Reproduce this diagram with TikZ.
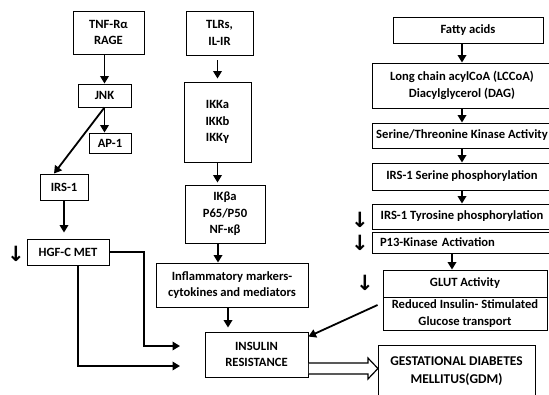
\documentclass[tikz,border=0pt]{standalone}
\usepackage{fontspec}
\setmainfont{Carlito}
\newfontfamily\arrfont{DejaVu Sans}
\usetikzlibrary{arrows.meta}

\begin{document}
\begin{tikzpicture}[
    x=1pt, y=-1pt,
    box/.style={draw, line width=0.9pt, align=center, inner sep=0pt,
      font=\bfseries\fontsize{12.6}{16.5}\selectfont},
    flow/.style={line width=1.8pt, -{Triangle[length=7.5pt, width=8.5pt]}},
    downsym/.style={font=\arrfont\bfseries\fontsize{21}{21}\selectfont, inner sep=0pt}
  ]
  \useasboundingbox (0,0) rectangle (549,394);
  \clip (0,0) rectangle (549,394);
  \fill[white] (0,0) rectangle (549,394);

  % left branch
  \node[box, minimum width=71, minimum height=43] (tnf) at (108.5,32.5) {TNF-Rα\\RAGE};
  \node[box, minimum width=53, minimum height=23] (jnk) at (104.5,95.5) {JNK};
  \node[box, minimum width=42, minimum height=20] (ap1) at (110,143) {AP-1};
  \node[box, minimum width=48, minimum height=26] (irs1) at (64,187) {IRS-1};
  \node[box, minimum width=82, minimum height=26] (hgf) at (68,252) {HGF-C MET};

  % middle branch
  \node[box, minimum width=67, minimum height=44] (tlr) at (219.5,33) {TLRs,\\IL-IR};
  \node[box, minimum width=67, minimum height=80] (ikk) at (217.5,122) {IKKa\\IKKb\\IKKγ};
  \node[box, minimum width=80, minimum height=58] (ikb) at (225,214) {IKβa\\P65/P50\\NF-κβ};
  \node[box, minimum width=152, minimum height=44] (inflam) at (232,285)
    {Inflammatory markers-\\cytokines and mediators};
  \node[box, minimum width=103, minimum height=45] (ir) at (256.5,354.5) {INSULIN\\RESISTANCE};

  % right branch
  \node[box, minimum width=150, minimum height=26] (fatty) at (468,30) {Fatty acids};
  \foreach \nm/\py/\bh/\txt in {%
    lcc/85.5/45/{Long chain acylCoA (LCCoA)\\Diacylglycerol (DAG)},
    ser/135.5/25/{Serine/Threonine Kinase Activity},
    irsser/176.5/27/{IRS-1 Serine phosphorylation},
    irstyr/216.5/25/{IRS-1 Tyrosine phosphorylation}%
  }{
    \node[box, minimum width=180, minimum height=\bh] (\nm) at (462,\py) {\txt};
  }
  \node[box, minimum height=21, text width=164, inner xsep=8pt, align=left]
    (p13) at (462,242.5) {P13-Kinase Activation};
  \node[box, minimum width=164, minimum height=27] (glut) at (465,283.5) {GLUT Activity};
  \node[box, minimum width=164, minimum height=33] (glutb) at (465,313.5)
    {Reduced Insulin- Stimulated\\Glucose transport};
  \node[box, minimum width=157, minimum height=52, font=\bfseries\fontsize{13.4}{18}\selectfont]
    (gdm) at (456.5,371) {GESTATIONAL DIABETES\\MELLITUS(GDM)};

  \foreach \nm/\px/\py in {dnhgf/16/254, dntyr/360/220, dnp13/360/243, dnglut/365/283}
    \node[downsym] (\nm) at (\px,\py) {↓};

  % connectors
  \draw[flow] (jnk.north |- tnf.south) -- (jnk.north);
  \draw[flow] (jnk.south) -- (jnk.south |- ap1.north);
  \draw[flow] (jnk.south) -- ([xshift=-10pt]irs1.north);
  \draw[flow, shorten >=6pt] (irs1.south) -- (irs1.south |- hgf.north);
  \coordinate (irin1) at (180,346);
  \coordinate (irin2) at (180,366);
  \draw[flow] (hgf.east) -| ([xshift=-36pt]irin1) -- (irin1);
  \draw[flow] ([xshift=10pt]hgf.south) |- (irin2);

  \draw[flow, shorten <=5pt, shorten >=3pt] (ikk.north |- tlr.south) -- (ikk.north);
  \draw[flow, shorten >=2pt] (ikk.south) -- (ikk.south |- ikb.north);
  \coordinate (ikbout) at ([xshift=-7pt]ikb.south);
  \draw[flow] (ikbout) -- (ikbout |- inflam.north);
  \coordinate (irtop) at ([xshift=-28.5pt]ir.north);
  \draw[flow, shorten >=4pt] (irtop |- inflam.south) -- (irtop);

  \foreach \a/\b in {fatty/lcc, lcc/ser, ser/irsser, irsser/irstyr}
    \draw[flow] (\b.north |- \a.south) -- (\b.north);
  \coordinate (glutin) at ([xshift=-13pt]glut.north);
  \draw[flow] (glutin |- p13.south) -- (glutin);
  \draw[flow] ([shift={(-5pt,8.5pt)}]glutb.west) -- ([yshift=-5pt]ir.north east);

  \draw[line width=1.2pt, fill=white] ([shift={(0.5pt,-8.5pt)}]ir.east)
    -- ++(59,0) -- ++(0,-5) -- ++(10,10.5) -- ++(-10,10.5) -- ++(0,-5) -- ++(-59,0);
\end{tikzpicture}
\end{document}
